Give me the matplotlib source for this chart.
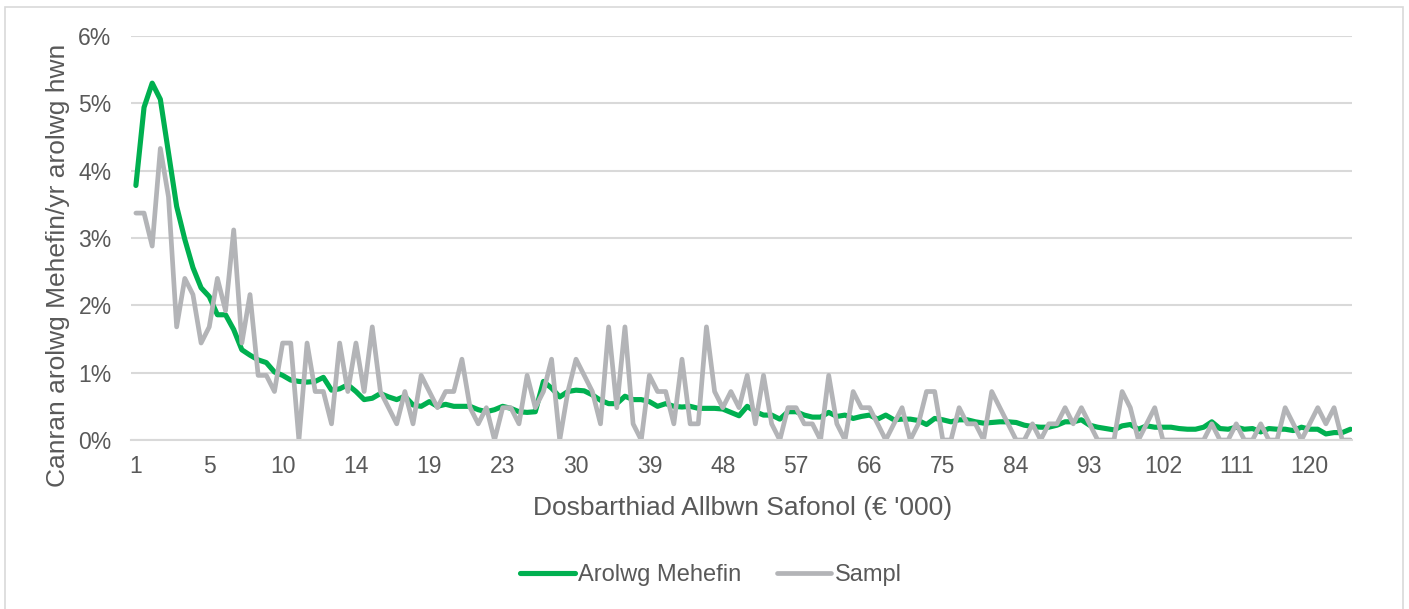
import matplotlib.pyplot as plt
from matplotlib.patches import Rectangle

plt.rcParams['font.family'] = ['Liberation Sans', 'DejaVu Sans']

# dosbarthiad (categori) - dim ond pob 9fed label a ddangosir
tick_labels = ['1', '5', '10', '14', '19', '23', '30', '39', '48', '57',
               '66', '75', '84', '93', '102', '111', '120']

# canran (%)
arolwg_mehefin = [
    3.78, 4.94, 5.30, 5.06, 4.27, 3.47, 2.98, 2.56, 2.26, 2.13,
    1.86, 1.86, 1.64, 1.34, 1.26, 1.19, 1.15, 1.01, 0.96, 0.89,
    0.87, 0.86, 0.87, 0.93, 0.74, 0.76, 0.82, 0.72, 0.60, 0.62,
    0.69, 0.64, 0.60, 0.65, 0.52, 0.50, 0.57, 0.50, 0.53, 0.50,
    0.50, 0.50, 0.45, 0.42, 0.45, 0.50, 0.47, 0.42, 0.41, 0.42,
    0.87, 0.77, 0.64, 0.72, 0.74, 0.73, 0.67, 0.59, 0.54, 0.54,
    0.65, 0.60, 0.60, 0.57, 0.50, 0.54, 0.50, 0.49, 0.50, 0.47,
    0.47, 0.47, 0.46, 0.41, 0.36, 0.50, 0.42, 0.37, 0.37, 0.31,
    0.42, 0.42, 0.37, 0.34, 0.34, 0.41, 0.35, 0.37, 0.32, 0.35,
    0.37, 0.31, 0.37, 0.30, 0.31, 0.31, 0.29, 0.23, 0.32, 0.30,
    0.27, 0.30, 0.30, 0.27, 0.25, 0.26, 0.27, 0.27, 0.26, 0.22,
    0.20, 0.19, 0.19, 0.22, 0.27, 0.27, 0.30, 0.22, 0.19, 0.17,
    0.15, 0.21, 0.23, 0.16, 0.21, 0.19, 0.19, 0.19, 0.17, 0.16,
    0.16, 0.19, 0.27, 0.17, 0.16, 0.19, 0.16, 0.17, 0.12, 0.17,
    0.16, 0.16, 0.14, 0.19, 0.16, 0.16, 0.09, 0.11, 0.11, 0.16,
]

sampl = [
    3.37, 3.37, 2.88, 4.33, 3.61, 1.68, 2.40, 2.16, 1.44, 1.68,
    2.40, 1.92, 3.12, 1.44, 2.16, 0.96, 0.96, 0.72, 1.44, 1.44,
    0.00, 1.44, 0.72, 0.72, 0.24, 1.44, 0.72, 1.44, 0.72, 1.68,
    0.72, 0.48, 0.24, 0.72, 0.24, 0.96, 0.72, 0.48, 0.72, 0.72,
    1.20, 0.48, 0.24, 0.48, 0.00, 0.48, 0.48, 0.24, 0.96, 0.48,
    0.72, 1.20, 0.00, 0.72, 1.20, 0.96, 0.72, 0.24, 1.68, 0.48,
    1.68, 0.24, 0.00, 0.96, 0.72, 0.72, 0.24, 1.20, 0.24, 0.24,
    1.68, 0.72, 0.48, 0.72, 0.48, 0.96, 0.24, 0.96, 0.24, 0.00,
    0.48, 0.48, 0.24, 0.24, 0.00, 0.96, 0.24, 0.00, 0.72, 0.48,
    0.48, 0.24, 0.00, 0.24, 0.48, 0.00, 0.24, 0.72, 0.72, 0.00,
    0.00, 0.48, 0.24, 0.24, 0.00, 0.72, 0.48, 0.24, 0.00, 0.00,
    0.24, 0.00, 0.24, 0.24, 0.48, 0.24, 0.48, 0.24, 0.00, 0.00,
    0.00, 0.72, 0.48, 0.00, 0.24, 0.48, 0.00, 0.00, 0.00, 0.00,
    0.00, 0.00, 0.24, 0.00, 0.00, 0.24, 0.00, 0.00, 0.24, 0.00,
    0.00, 0.48, 0.24, 0.00, 0.24, 0.48, 0.24, 0.48, 0.00, 0.00,
]

y_ticks = [0, 1, 2, 3, 4, 5, 6]

txt = '#595959'
grid = '#d9d9d9'
W, H = 1409, 609

fig = plt.figure(figsize=(W / 100, H / 100), dpi=100)
fig.patches.append(Rectangle((5 / W, -0.05), 1398 / W, 1.05 - 7 / H,
                             transform=fig.transFigure, fill=False,
                             edgecolor=grid, linewidth=1.2))

ax = fig.add_axes([131 / W, 1 - 440 / H, (1352 - 131) / W, (440 - 36) / H])

x = list(range(len(arolwg_mehefin)))
ax.plot(x, arolwg_mehefin, color='#00b050', linewidth=3.7,
        solid_joinstyle='round', solid_capstyle='round', label='Arolwg Mehefin')
ax.plot(x, sampl, color='#b3b4b7', linewidth=3.4,
        solid_joinstyle='round', solid_capstyle='round', label='Sampl')

ax.set_xlim(-0.6, len(x) - 0.8)
ax.set_ylim(0, 6)
ax.set_yticks(y_ticks)
ax.set_yticklabels([f'{v}%' for v in y_ticks])
ax.set_xticks(x[::9])
ax.set_xticklabels(tick_labels)

ax.grid(axis='y', color=grid, linewidth=1.5)
ax.set_axisbelow(True)
for s in ['top', 'right', 'left']:
    ax.spines[s].set_visible(False)
ax.spines['bottom'].set_color(grid)
ax.spines['bottom'].set_linewidth(1.5)
ax.tick_params(axis='both', length=0, labelsize=16.5, labelcolor=txt)
ax.tick_params(axis='x', pad=11)
ax.tick_params(axis='y', pad=14)

fig.text(743 / W, 1 - 508 / H, "Dosbarthiad Allbwn Safonol (€ '000)",
         ha='center', va='center', fontsize=19, color=txt)
fig.text(58 / W, 1 - 265 / H, 'Canran arolwg Mehefin/yr arolwg hwn',
         ha='center', va='center', rotation=90, fontsize=19, color=txt)

fig.legend(loc='center', bbox_to_anchor=(711 / W, 1 - 575 / H), ncol=2,
           frameon=False, fontsize=17, labelcolor=txt, handlelength=2.3,
           handletextpad=0.15, columnspacing=1.5)

fig.savefig('out.png', dpi=100)
